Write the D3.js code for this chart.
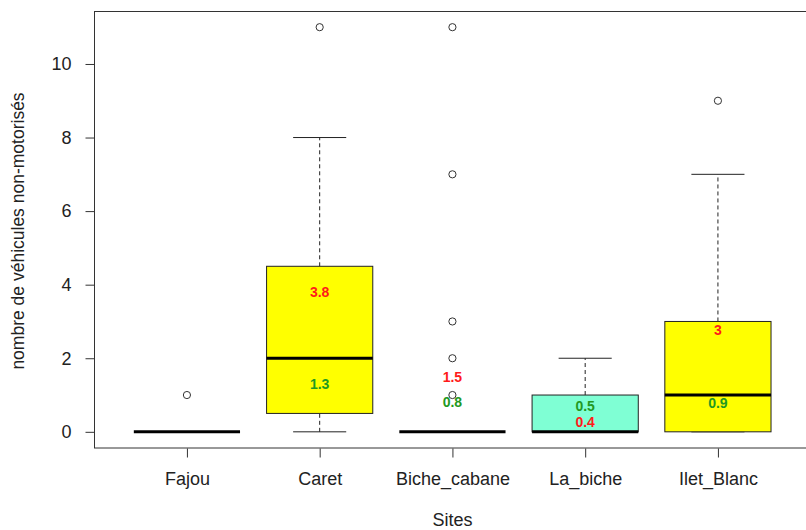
<!DOCTYPE html>
<html>
<head>
<meta charset="utf-8">
<script src="https://cdn.jsdelivr.net/npm/d3@7"></script>
<style>
  body { margin: 0; background: #fff; }
  svg { display: block; font-family: "Liberation Sans", Arial, sans-serif; }
</style>
</head>
<body>
<div id="chart"></div>
<script>
// Sites and box summaries
const sites = ["Fajou", "Caret", "Biche_cabane", "La_biche", "Ilet_Blanc"];
const whiskerLow = [0, 0, 0, 0, 0];
const q1 = [0, 0.5, 0, 0, 0];
const medians = [0, 2, 0, 0, 1];
const q3 = [0, 4.5, 0, 1, 3];
const whiskerHigh = [0, 8, 0, 2, 7];
const outliers = [[1], [11], [1, 2, 3, 7, 11], [], [9]];
const boxFill = ["#FFFF00", "#FFFF00", "#FFFF00", "#7FFFD4", "#FFFF00"];

// annotations inside the boxes (text and the level they sit at)
const redLabels = ["", "3.8", "1.5", "0.4", "3"];
const redAt = [null, 3.8, 1.5, 0.28, 2.78];
const greenLabels = ["", "1.3", "0.8", "0.5", "0.9"];
const greenAt = [null, 1.3, 0.8, 0.69, 0.79];

const yTicks = [0, 2, 4, 6, 8, 10];

const W = 806, H = 530;
const svg = d3.select("#chart").append("svg")
    .attr("width", W)
    .attr("height", H);

// R style: x from 0.3 to 5.7, y extended 4% each side
const x = d3.scaleLinear().domain([0.3, 5.7]).range([94, 94 + 5.4 * 132.75]);
const y = d3.scaleLinear().domain([-0.44, 11.44]).range([448, 11]);

const boxW = 0.8, capW = 0.4;
const g = svg.append("g");

sites.forEach((s, i) => {
    const cx = i + 1;

    // whiskers (dashed)
    [[q3[i], whiskerHigh[i]], [whiskerLow[i], q1[i]]].forEach(([a, b]) => {
        if (a === b) return;
        g.append("line")
            .attr("x1", x(cx)).attr("x2", x(cx))
            .attr("y1", y(a)).attr("y2", y(b))
            .attr("stroke", "#222")
            .attr("stroke-dasharray", "4,3");
    });
    // caps
    [whiskerLow[i], whiskerHigh[i]].forEach(v => {
        g.append("line")
            .attr("x1", x(cx - capW / 2)).attr("x2", x(cx + capW / 2))
            .attr("y1", y(v)).attr("y2", y(v))
            .attr("stroke", "#222");
    });

    // box
    g.append("rect")
        .attr("x", x(cx - boxW / 2))
        .attr("y", y(q3[i]))
        .attr("width", x(cx + boxW / 2) - x(cx - boxW / 2))
        .attr("height", y(q1[i]) - y(q3[i]))
        .attr("fill", boxFill[i])
        .attr("stroke", "#222");

    // median
    g.append("line")
        .attr("x1", x(cx - boxW / 2)).attr("x2", x(cx + boxW / 2))
        .attr("y1", y(medians[i])).attr("y2", y(medians[i]))
        .attr("stroke", "#000")
        .attr("stroke-width", 3);

    // outliers
    outliers[i].forEach(v => {
        g.append("circle")
            .attr("cx", x(cx)).attr("cy", y(v))
            .attr("r", 3.6)
            .attr("fill", "none")
            .attr("stroke", "#333");
    });
});

// annotations
sites.forEach((s, i) => {
    if (redLabels[i]) {
        g.append("text")
            .attr("x", x(i + 1)).attr("y", y(redAt[i]))
            .attr("dy", "0.36em")
            .attr("text-anchor", "middle")
            .style("font-size", "14px").style("font-weight", "bold")
            .attr("fill", "#ff1a1a")
            .text(redLabels[i]);
    }
    if (greenLabels[i]) {
        g.append("text")
            .attr("x", x(i + 1)).attr("y", y(greenAt[i]))
            .attr("dy", "0.36em")
            .attr("text-anchor", "middle")
            .style("font-size", "14px").style("font-weight", "bold")
            .attr("fill", "#229922")
            .text(greenLabels[i]);
    }
});

// frame
svg.append("rect")
    .attr("x", 94.5).attr("y", 11.5)
    .attr("width", x(5.7) - 94.5)
    .attr("height", 448 - 11.5)
    .attr("fill", "none")
    .attr("stroke", "#333");

// y axis
const yAxis = svg.append("g")
    .attr("transform", "translate(94.5,0)")
    .call(d3.axisLeft(y).tickValues(yTicks).tickSize(9).tickPadding(14));
yAxis.select(".domain").remove();
yAxis.selectAll("line").attr("stroke", "#333");
yAxis.selectAll("text")
    .style("font-size", "18px")
    .style("font-family", "Liberation Sans, Arial, sans-serif")
    .attr("fill", "#222");

// x axis
const xAxis = svg.append("g")
    .attr("transform", "translate(0,448.5)")
    .call(d3.axisBottom(x).tickValues(d3.range(1, sites.length + 1))
        .tickFormat(d => sites[d - 1]).tickSize(9).tickPadding(15));
xAxis.select(".domain").remove();
xAxis.selectAll("line").attr("stroke", "#333");
xAxis.selectAll("text")
    .style("font-size", "18px")
    .style("font-family", "Liberation Sans, Arial, sans-serif")
    .attr("fill", "#222");

// axis titles
svg.append("text")
    .attr("x", x(3))
    .attr("y", 520)
    .attr("dy", "0.36em")
    .attr("text-anchor", "middle")
    .style("font-size", "18px")
    .attr("fill", "#222")
    .text("Sites");

svg.append("text")
    .attr("transform", "translate(18,231) rotate(-90)")
    .attr("dy", "0.36em")
    .attr("text-anchor", "middle")
    .style("font-size", "17.5px")
    .attr("fill", "#222")
    .text("nombre de véhicules non-motorisés");
</script>
</body>
</html>
